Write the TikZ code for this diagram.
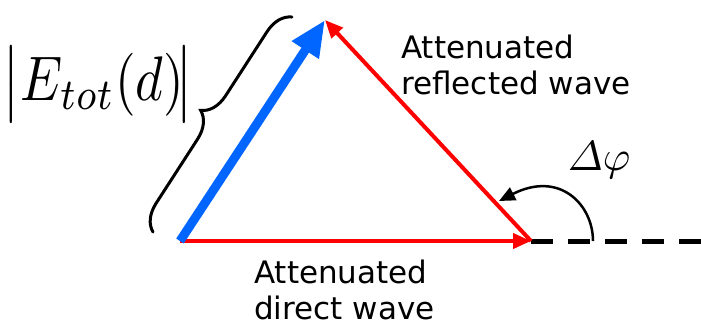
\documentclass[tikz,border=0pt]{standalone}
\usepackage{fontspec}
\usepackage{amsmath}
\usepackage{graphicx}
\setsansfont{DejaVu Sans}
\usetikzlibrary{arrows.meta,decorations.pathreplacing}
\begin{document}
\begin{tikzpicture}[x=1pt,y=-1pt,
  redvec/.style={draw=red,line width=4pt,-{Triangle[length=18pt,width=15pt]}},
  bluevec/.style={draw={rgb,255:red,0;green,102;blue,255},line width=9pt,-{Triangle[length=36pt,width=30pt]}},
  lbl/.style={font=\sffamily\fontsize{31}{36}\selectfont,align=left,inner sep=0pt},
  bracestyle/.style={draw=black,line width=3pt,line cap=round,decorate,decoration={brace,amplitude=26pt}}]
\useasboundingbox (0,0) rectangle (701,325);
\coordinate (A) at (180,241);
\coordinate (B) at (325,20);
\coordinate (C) at (531,241);
\coordinate (D) at (701,241);
\coordinate (Bl) at (153,232);
\coordinate (Bt) at (292,17);
\coordinate (arcS) at (593,241);
\coordinate (arcE) at (499,201);
\draw[line width=5pt,dash pattern=on 22pt off 15pt] (C) -- (D);
\draw[redvec] (A) -- (C);
\draw[redvec] (C) -- (B);
\draw[bluevec] (A) -- (B);
\draw[bracestyle] (Bl) -- (Bt);
\draw[line width=2.5pt,-{Triangle[length=16pt,width=14pt]}] (arcS) .. controls (593,205) and (560,170) .. (arcE);
\node[lbl,anchor=north west] (refl) at (401,35) {Attenuated\\reflected wave};
\node[lbl,anchor=north west] (dir) at (254,260) {Attenuated\\direct wave};
\node[inner sep=0pt,anchor=base] (Etot) at (98,100) {\scalebox{5.3}[6.3]{$\bigl|E_{tot}\!\left(d\right)\!\bigr|$}};
\node[inner sep=0pt] (dphi) at (599,160) {\scalebox{4.2}{$\varDelta\varphi$}};
\end{tikzpicture}
\end{document}
